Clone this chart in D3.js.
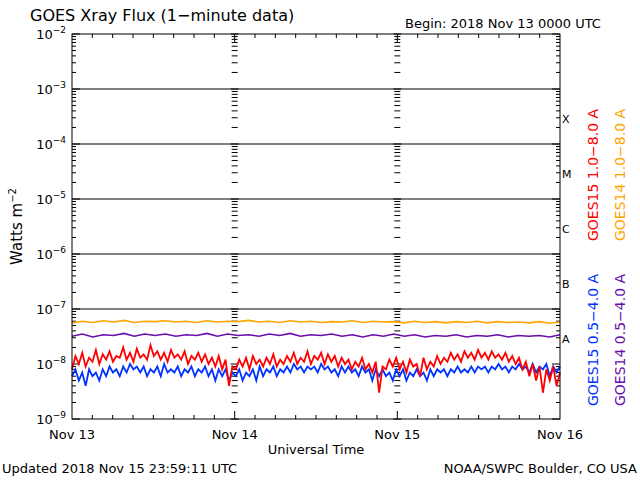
<!DOCTYPE html><html><head><meta charset="utf-8">
<script src="https://cdn.jsdelivr.net/npm/d3@7"></script>
<style>body{margin:0;background:#fff}text{font-family:"DejaVu Sans",sans-serif}</style></head><body>
<svg id="c" width="640" height="480"></svg>
<script>
const dayLabels=["Nov 13","Nov 14","Nov 15","Nov 16"];
const yTickExps=[-9,-8,-7,-6,-5,-4,-3,-2];
const classLabels=[["X",-3.55],["M",-4.55],["C",-5.55],["B",-6.55],["A",-7.55]];
// values in units of 1e-9 W m^-2, evenly spaced over 3 days
const goes15Long=[8,14,10,16,9,13,11,18,10,15,12,17,11,14,13,20,12,16,11,19,13,15,12,22,14,17,12,16,11,18,13,15,12,17,10,14,12,16,11,15,10,13,9,14,8,12,4,9,
8,12,9,13,8,14,10,12,9,13,10,15,9,12,10,14,11,16,10,13,11,17,10,14,12,16,10,15,11,14,9,13,10,12,8,11,9,13,8,10,7,11,3,9,8,12,9,13,
8,11,7,12,9,10,6,13,8,11,9,14,10,13,11,16,12,15,11,17,13,16,12,18,13,16,12,17,13,15,12,16,11,14,10,13,8,11,6,10,5,9,3,8,5,9,4,7];
const goes15Short=[6,8,5,7,4,8,6,7,5,8,6,9,7,8,6,9,7,10,8,9,7,9,6,8,7,9,6,10,7,8,7,9,6,8,7,9,6,8,7,9,6,8,5,8,6,8,5,7,
6,8,5,7,6,8,5,9,6,8,7,9,6,8,7,9,7,10,8,9,7,9,8,9,7,10,8,9,7,8,6,9,7,9,7,8,6,9,7,8,5,8,6,8,6,7,5,8,
6,8,5,7,6,8,6,7,5,8,6,8,7,8,6,8,7,9,7,8,7,9,7,9,8,9,7,9,8,10,8,9,7,9,8,10,8,9,7,10,7,9,8,10,6,9,7,9];
const goes14Long=[56,60,57,61,58,62,57,60,59,61,58,60,57,61,58,60,59,62,58,60,57,61,58,60,57,59,58,61,57,60,58,59,56,60,57,59,56,59,57,60,56,59,57,58,56,59,55,58];
const goes14Short=[32,35,31,34,33,36,32,35,33,35,32,34,33,36,32,35,33,34,32,35,33,36,32,34,33,35,32,34,31,34,32,35,32,34,31,33,32,34,31,33,32,34,31,33,32,33,31,34];

const svg=d3.select("#c");
const L=72,R=560,T=34,B=419;
const x=d3.scaleLinear().domain([0,3]).range([L,R]);
const y=d3.scaleLog().domain([1e-9,1e-2]).range([B,T]);

svg.append("g").selectAll("line").data([-7,-6,-5,-4,-3]).join("line")
 .attr("x1",L).attr("x2",R).attr("y1",d=>y(10**d)).attr("y2",d=>y(10**d)).attr("stroke","#000");

const minors=[];yTickExps.slice(0,-1).forEach(e=>{for(let m=2;m<=9;m++)minors.push(m*10**e)});
const g=svg.append("g").attr("stroke","#000");
[0,1,2,3].forEach(d=>{
  const xx=x(d);
  minors.forEach(v=>{
    const x1=d===3?xx-4:(d===0?xx:xx-3), x2=d===0?xx+4:(d===3?xx:xx+3);
    g.append("line").attr("x1",x1).attr("x2",x2).attr("y1",y(v)).attr("y2",y(v));
  });
  yTickExps.forEach(e=>{
    g.append("line").attr("x1",d===3?xx-8:(d===0?xx:xx-4)).attr("x2",d===0?xx+8:(d===3?xx:xx+4)).attr("y1",y(10**e)).attr("y2",y(10**e));
  });
});
for(let h=3;h<72;h+=3){
  const xx=x(h/24), big=h%24===0;
  g.append("line").attr("x1",xx).attr("x2",xx).attr("y1",T).attr("y2",T+(big?8:4));
  g.append("line").attr("x1",xx).attr("x2",xx).attr("y1",B).attr("y2",B-(big?8:4));
}

function series(arr,color,w){
  const n=arr.length;
  const line=d3.line().x((d,i)=>x(i*3/(n-1))).y(d=>y(d*1e-9));
  svg.append("path").attr("d",line(arr)).attr("fill","none").attr("stroke",color).attr("stroke-width",w);
}
series(goes14Long,"#ffa500",1.6);
series(goes14Short,"#6a0dad",1.6);
series(goes15Short,"#0033ff",1.8);
series(goes15Long,"#ff0000",1.8);

svg.append("rect").attr("x",L).attr("y",T).attr("width",R-L).attr("height",B-T).attr("fill","none").attr("stroke","#000");

const yl=svg.append("g").attr("font-size",13);
yTickExps.forEach(e=>{
  const t=yl.append("text").attr("x",L-6).attr("y",y(10**e)+5).attr("text-anchor","end");
  t.append("tspan").text("10");
  t.append("tspan").attr("dy",-6).attr("font-size",9).text(String(e).replace("-","−"));
});
dayLabels.forEach((d,i)=>svg.append("text").attr("x",x(i)).attr("y",B+20).attr("text-anchor","middle").attr("font-size",13).text(d));
svg.append("text").attr("x",(L+R)/2).attr("y",B+35).attr("text-anchor","middle").attr("font-size",13).text("Universal Time");
const yt=svg.append("text").attr("transform",`translate(22,${(T+B)/2}) rotate(-90)`).attr("text-anchor","middle").attr("font-size",15);
yt.append("tspan").text("Watts m");yt.append("tspan").attr("dy",-6).attr("font-size",10).text("−2");
classLabels.forEach(([c,e])=>svg.append("text").attr("x",R+2).attr("y",y(10**e)+4).attr("font-size",11).attr("font-family","Liberation Serif").text(c));
svg.append("text").attr("x",30).attr("y",21).attr("font-size",16).text("GOES Xray Flux (1−minute data)");
svg.append("text").attr("x",405).attr("y",28).attr("font-size",13).text("Begin:  2018 Nov 13 0000 UTC");
svg.append("text").attr("x",2).attr("y",473).attr("font-size",13).text("Updated 2018 Nov 15 23:59:11 UTC");
svg.append("text").attr("x",637).attr("y",473).attr("text-anchor","end").attr("font-size",13).text("NOAA/SWPC Boulder, CO USA");
function vlab(xx,yc,txt,col){svg.append("text").attr("transform",`translate(${xx},${yc}) rotate(-90)`).attr("text-anchor","middle").attr("font-size",14).attr("fill",col).text(txt);}
vlab(598,175,"GOES15 1.0−8.0 A","#ff0000");
vlab(625,175,"GOES14 1.0−8.0 A","#ffa500");
vlab(598,340,"GOES15 0.5−4.0 A","#0033ff");
vlab(625,340,"GOES14 0.5−4.0 A","#6a0dad");
</script></body></html>
